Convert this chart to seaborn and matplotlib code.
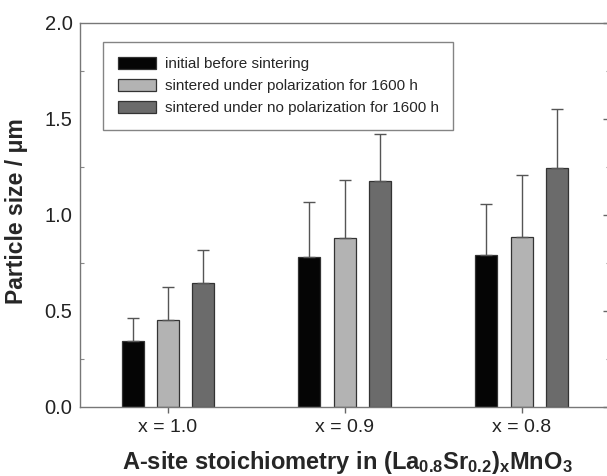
import numpy as np
import pandas as pd
import matplotlib
matplotlib.use("Agg")
import matplotlib.pyplot as plt
from matplotlib.ticker import MultipleLocator
import seaborn as sns

categories = ["x = 1.0", "x = 0.9", "x = 0.8"]
series = ["initial before sintering",
          "sintered under polarization for 1600 h",
          "sintered under no polarization for 1600 h"]
initial = [0.34, 0.78, 0.79]
polarized = [0.45, 0.88, 0.885]
unpolarized = [0.645, 1.175, 1.24]
err_initial = [0.12, 0.285, 0.265]
err_polarized = [0.175, 0.30, 0.32]
err_unpolarized = [0.17, 0.245, 0.31]
colors = ["#050505", "#b3b3b3", "#6b6b6b"]

sns.set_theme(style="white")
plt.rcParams['font.family'] = ['Liberation Sans', 'DejaVu Sans']
plt.rcParams['mathtext.fontset'] = 'custom'
plt.rcParams['mathtext.rm'] = 'Liberation Sans:bold'
plt.rcParams['mathtext.it'] = 'Liberation Sans:bold'
plt.rcParams['mathtext.bf'] = 'Liberation Sans:bold'
plt.rcParams['mathtext.default'] = 'rm'

df = pd.DataFrame({
    "cat": categories * 3,
    "series": [series[0]] * 3 + [series[1]] * 3 + [series[2]] * 3,
    "value": initial + polarized + unpolarized,
})
errs = err_initial + err_polarized + err_unpolarized

fig = plt.figure(figsize=(6.07, 4.76), dpi=100)
ax = fig.add_axes([79.5 / 607, 1 - 406.5 / 476, (610 - 79.5) / 607, (406.5 - 22.5) / 476])

sns.barplot(data=df, x="cat", y="value", hue="series", hue_order=series,
            palette=colors, width=0.6, gap=0.38, errorbar=None,
            edgecolor="#333333", linewidth=0.9, ax=ax)

bars = [p for p in ax.patches if p.get_height() > 0][:9]
for p, e in zip(bars, errs):
    xc = p.get_x() + p.get_width() / 2
    ax.errorbar([xc], [p.get_height()], yerr=[[0], [e]], fmt="none",
                ecolor="#555555", elinewidth=1.0, capsize=4, capthick=1.0)

ax.set_xlim(-0.5, 2.5)
ax.set_ylim(0, 2.0)
ax.yaxis.set_major_locator(MultipleLocator(0.5))
ax.yaxis.set_minor_locator(MultipleLocator(0.25))
ax.yaxis.set_major_formatter(matplotlib.ticker.FormatStrFormatter('%.1f'))
ax.tick_params(axis='y', which='major', direction='in', length=5, width=1,
               color='#666666', labelsize=14.5, labelcolor='#222222',
               right=True, pad=5)
ax.tick_params(axis='y', which='minor', direction='in', length=3, width=0.8,
               color='#888888', left=True, right=True)
ax.tick_params(axis='x', which='major', direction='out', length=4, width=1,
               color='#666666', labelsize=14, labelcolor='#222222',
               bottom=True, pad=5)
for s in ax.spines.values():
    s.set_color('#777777')
    s.set_linewidth(1.0)

ax.set_ylabel("Particle size / μm", fontsize=16.5, fontweight='bold')
ax.yaxis.set_label_coords(-0.097, 0.51)
ax.set_xlabel(r"A-site stoichiometry in (La$_{0.8}$Sr$_{0.2}$)$_x$MnO$_3$",
              fontsize=17, fontweight='bold')
ax.xaxis.set_label_coords(0.505, -0.11)

leg = ax.legend(loc='upper left', bbox_to_anchor=(0.03, 0.968), fontsize=11,
                frameon=True, fancybox=False, edgecolor='#666666',
                handlelength=2.5, handleheight=0.85, borderpad=0.95,
                labelspacing=0.5, handletextpad=0.6, title=None)
leg.get_frame().set_linewidth(1.0)

fig.savefig("out.png", dpi=100)
